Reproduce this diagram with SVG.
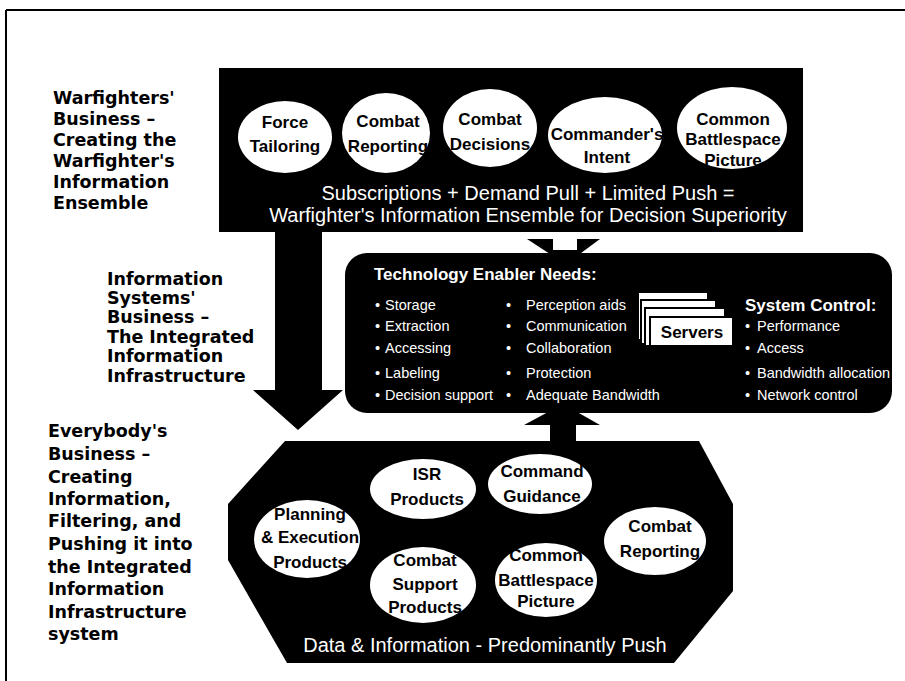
<svg xmlns="http://www.w3.org/2000/svg" width="905" height="681" viewBox="0 0 905 681">
<style>
.lbl{font-family:"DejaVu Sans",sans-serif;font-weight:bold;font-size:17.5px;fill:#000}
.nt{font-family:"Liberation Sans",Arial,sans-serif;font-weight:bold;font-size:17px;text-anchor:middle;fill:#000}
.wt{font-family:"Liberation Sans",Arial,sans-serif;font-size:20px;text-anchor:middle;fill:#fff}
.it{font-family:"Liberation Sans",Arial,sans-serif;font-size:14.5px;fill:#fff}
.hd{font-family:"Liberation Sans",Arial,sans-serif;font-weight:bold;font-size:17px;fill:#fff}
.blk{fill:#000}
.el{fill:#fff}
.card{fill:#fff;stroke:#000;stroke-width:2}
</style>
<rect width="905" height="681" fill="#fff"/>
<g id="frame" stroke="#000" stroke-width="2">
<line x1="6" y1="10" x2="905" y2="10"/>
<line x1="6" y1="10" x2="6" y2="681"/>
</g>

<g id="label-warfighters" class="lbl">
<text x="53" y="104">Warfighters'</text>
<text x="53" y="125">Business –</text>
<text x="53" y="146">Creating the</text>
<text x="53" y="167">Warfighter's</text>
<text x="53" y="188">Information</text>
<text x="53" y="209">Ensemble</text>
</g>
<g id="label-infosystems" class="lbl">
<text x="107" y="285">Information</text>
<text x="107" y="304">Systems'</text>
<text x="107" y="323">Business –</text>
<text x="107" y="343">The Integrated</text>
<text x="107" y="362">Information</text>
<text x="107" y="382">Infrastructure</text>
</g>
<g id="label-everybody" class="lbl">
<text x="48" y="437">Everybody's</text>
<text x="48" y="460">Business –</text>
<text x="48" y="483">Creating</text>
<text x="48" y="505">Information,</text>
<text x="48" y="527">Filtering,  and</text>
<text x="48" y="550">Pushing it into</text>
<text x="48" y="573">the Integrated</text>
<text x="48" y="595">Information</text>
<text x="48" y="618">Infrastructure</text>
<text x="48" y="640">system</text>
</g>

<g id="connectors" class="blk">
<polygon points="275,231 322,231 322,390 343,390 298,430 253,390 275,390"/>
<polygon points="527,239 553,239 553,256"/>
<polygon points="577,239 600,239 577,256"/>
<rect x="553" y="250" width="24" height="5"/>
<polygon points="524,425 550,425 550,445 576,445 576,425 600,425 563,404"/>
</g>

<g id="warfighter-ensemble">
<rect x="219" y="68" width="584" height="164" class="blk"/>
<g id="force-tailoring"><ellipse cx="285" cy="137" rx="47" ry="36" class="el"/>
<text class="nt" x="285" y="128">Force</text><text class="nt" x="285" y="152">Tailoring</text></g>
<g id="combat-reporting-top"><ellipse cx="386" cy="133" rx="44" ry="40" class="el"/>
<text class="nt" x="388" y="127">Combat</text><text class="nt" x="388" y="152">Reporting</text></g>
<g id="combat-decisions"><ellipse cx="490" cy="128" rx="47" ry="39" class="el"/>
<text class="nt" x="490" y="125">Combat</text><text class="nt" x="490" y="150">Decisions</text></g>
<g id="commanders-intent"><ellipse cx="605" cy="135" rx="57" ry="38" class="el"/>
<text class="nt" x="607" y="140">Commander's</text><text class="nt" x="607" y="163">Intent</text></g>
<g id="common-picture-top"><ellipse cx="732" cy="128" rx="55" ry="41" class="el"/>
<text class="nt" x="733" y="125">Common</text><text class="nt" x="733" y="145">Battlespace</text><text class="nt" x="733" y="166">Picture</text></g>
<text class="wt" x="528" y="200">Subscriptions + Demand Pull + Limited Push =</text>
<text class="wt" x="528" y="222">Warfighter's Information Ensemble for Decision Superiority</text>
</g>

<g id="technology-enablers">
<rect x="345" y="253" width="547" height="160" rx="22" class="blk"/>
<text class="hd" x="374" y="280">Technology Enabler Needs:</text>
<g class="it">
<text x="375" y="310">•</text><text x="385" y="310">Storage</text>
<text x="375" y="331">•</text><text x="385" y="331">Extraction</text>
<text x="375" y="353">•</text><text x="385" y="353">Accessing</text>
<text x="375" y="378">•</text><text x="385" y="378">Labeling</text>
<text x="375" y="400">•</text><text x="385" y="400">Decision support</text>
<text x="506" y="310">•</text><text x="526" y="310">Perception aids</text>
<text x="506" y="331">•</text><text x="526" y="331">Communication</text>
<text x="506" y="353">•</text><text x="526" y="353">Collaboration</text>
<text x="506" y="378">•</text><text x="526" y="378">Protection</text>
<text x="506" y="400">•</text><text x="526" y="400">Adequate Bandwidth</text>
<text x="745" y="331">•</text><text x="757" y="331">Performance</text>
<text x="745" y="353">•</text><text x="757" y="353">Access</text>
<text x="745" y="378">•</text><text x="757" y="378">Bandwidth allocation</text>
<text x="745" y="400">•</text><text x="757" y="400">Network control</text>
</g>
<text class="hd" x="745" y="311">System Control:</text>
<g id="servers">
<rect x="638" y="292" width="70" height="48" class="card"/>
<rect x="641" y="300" width="75" height="44" class="card"/>
<rect x="645" y="308" width="80" height="38" class="card"/>
<rect x="650" y="317" width="83" height="29" class="card"/>
<text x="692" y="338" font-family="Liberation Sans, Arial, sans-serif" font-weight="bold" font-size="17" text-anchor="middle" fill="#000">Servers</text>
</g>
</g>

<g id="data-information">
<polygon points="285,441 699,441 733,504 733,591 674,663 287,663 228,560 228,504" class="blk"/>
<g id="isr-products"><ellipse cx="423" cy="489" rx="53" ry="30" class="el"/>
<text class="nt" x="427" y="480">ISR</text><text class="nt" x="427" y="505">Products</text></g>
<g id="command-guidance"><ellipse cx="540" cy="484" rx="52" ry="30" class="el"/>
<text class="nt" x="542" y="477">Command</text><text class="nt" x="542" y="502">Guidance</text></g>
<g id="planning-execution"><ellipse cx="307" cy="539" rx="53" ry="39" class="el"/>
<text class="nt" x="310" y="520">Planning</text><text class="nt" x="310" y="543">&amp; Execution</text><text class="nt" x="310" y="568">Products</text></g>
<g id="combat-support"><ellipse cx="423" cy="585" rx="53" ry="38" class="el"/>
<text class="nt" x="425" y="566">Combat</text><text class="nt" x="425" y="590">Support</text><text class="nt" x="425" y="613">Products</text></g>
<g id="common-picture-bottom"><ellipse cx="546" cy="580" rx="51" ry="37" class="el"/>
<text class="nt" x="546" y="561">Common</text><text class="nt" x="546" y="586">Battlespace</text><text class="nt" x="546" y="607">Picture</text></g>
<g id="combat-reporting-bottom"><ellipse cx="655" cy="541" rx="51" ry="34" class="el"/>
<text class="nt" x="660" y="532">Combat</text><text class="nt" x="660" y="557">Reporting</text></g>
<text class="wt" x="485" y="652" font-size="19">Data &amp; Information - Predominantly Push</text>
</g>
</svg>
